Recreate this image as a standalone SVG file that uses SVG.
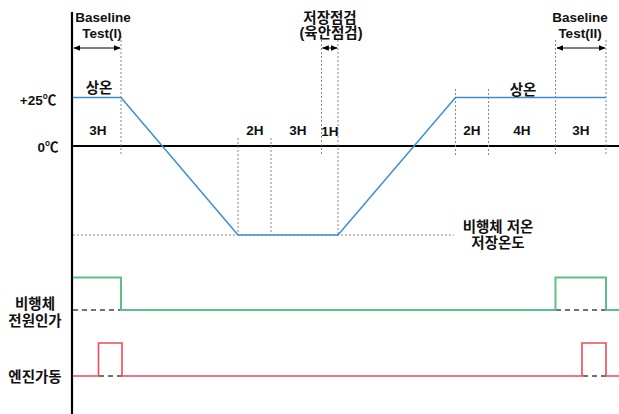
<svg xmlns="http://www.w3.org/2000/svg" width="619" height="414" viewBox="0 0 619 414">
<defs>
<style>
text{font-family:"Liberation Sans","Noto Sans CJK KR",sans-serif;font-weight:bold;fill:#111;text-anchor:middle}
.lat{font-size:13.5px}
.kr{font-size:14.5px}
.axis{stroke:#000;stroke-width:2.2;fill:none}
.guide{stroke:#888;stroke-width:1;stroke-dasharray:2 2;fill:none}
.temp{stroke:#3A8FD3;stroke-width:1.5;fill:none}
.pw{stroke:#5CBF86;stroke-width:2;fill:none}
.eng{stroke:#EE4A55;stroke-width:1.6;fill:none}
.base{stroke:#444;stroke-width:1.4;stroke-dasharray:5 4;fill:none}
.arr{stroke:#000;stroke-width:1;fill:none;marker-start:url(#ah);marker-end:url(#ah)}
</style>
<marker id="ah" viewBox="0 0 10 10" refX="9" refY="5" markerWidth="7" markerHeight="7" orient="auto-start-reverse" markerUnits="userSpaceOnUse">
<path d="M0,1 L10,5 L0,9 Z" fill="#000"/>
</marker>
</defs>
<g id="axes">
<line class="axis" x1="72" y1="12" x2="72" y2="414"/>
<line class="axis" x1="72" y1="146" x2="619" y2="146"/>
</g>
<g id="guides">
<line class="guide" x1="121" y1="36" x2="121" y2="156"/>
<line class="guide" x1="238" y1="138" x2="238" y2="235"/>
<line class="guide" x1="271" y1="138" x2="271" y2="235"/>
<line class="guide" x1="321.5" y1="40" x2="321.5" y2="155"/>
<line class="guide" x1="338" y1="40" x2="338" y2="235"/>
<line class="guide" x1="455.5" y1="89" x2="455.5" y2="155"/>
<line class="guide" x1="488.5" y1="89" x2="488.5" y2="155"/>
<line class="guide" x1="555.5" y1="40" x2="555.5" y2="155"/>
<line class="guide" x1="606" y1="40" x2="606" y2="155"/>
<line class="guide" x1="73" y1="235" x2="454" y2="235"/>
</g>
<g id="connectors">
<line class="arr" x1="74" y1="48" x2="120" y2="48"/>
<line class="arr" x1="322.5" y1="48" x2="337" y2="48"/>
<line class="arr" x1="557" y1="48" x2="605" y2="48"/>
</g>
<g id="temperature">
<polyline class="temp" points="73,97.5 121,97.5 238,235 338,235 455.5,97.5 606,97.5"/>
</g>
<g id="power">
<line class="base" x1="73" y1="310" x2="121" y2="310"/>
<line class="base" x1="556" y1="310" x2="606" y2="310"/>
<polyline class="pw" points="73,277.5 121,277.5 121,310 555.5,310 555.5,277.5 606,277.5 606,310 619,310"/>
</g>
<g id="engine">
<line class="base" x1="99" y1="376" x2="122" y2="376"/>
<line class="base" x1="583" y1="376" x2="606" y2="376"/>
<polyline class="eng" points="73,376 98.5,376 98.5,343 122,343 122,376 582,376 582,343 606,343 606,376 619,376"/>
</g>
<g id="labels">
<text class="lat" x="103" y="22">Baseline</text>
<text class="lat" x="102" y="37.5">Test(I)</text>
<text class="kr" x="330" y="22.5">저장점검</text>
<text class="kr" x="331" y="38">(육안점검)</text>
<text class="lat" x="580" y="22">Baseline</text>
<text class="lat" x="580" y="37.5">Test(II)</text>
<text class="kr" x="99" y="92.5">상온</text>
<text class="kr" x="523" y="94.5">상온</text>
<text class="lat" x="38" y="104.5">+25℃</text>
<text class="lat" x="48" y="151.5">0℃</text>
<text class="lat" x="98" y="135">3H</text>
<text class="lat" x="255" y="135">2H</text>
<text class="lat" x="298" y="135">3H</text>
<text class="lat" x="330" y="136">1H</text>
<text class="lat" x="472" y="135">2H</text>
<text class="lat" x="522" y="135">4H</text>
<text class="lat" x="581" y="135">3H</text>
<text class="kr" x="498" y="231.5">비행체 저온</text>
<text class="kr" x="498" y="247.5">저장온도</text>
<text class="kr" x="35" y="308.5">비행체</text>
<text class="kr" x="35" y="325.5">전원인가</text>
<text class="kr" x="35" y="381.5">엔진가동</text>
</g>
</svg>
